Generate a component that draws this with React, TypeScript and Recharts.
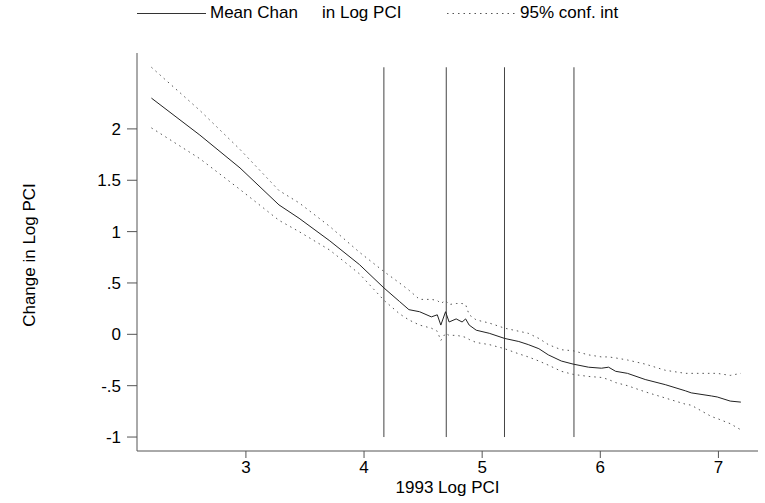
import React from "react";
import {
  LineChart,
  Line,
  XAxis,
  YAxis,
  ReferenceLine,
} from "recharts";

// 1993 log PCI (x) and the smoothed change with its 95% band
const logPci = [2.2, 2.61, 2.95, 3.28, 3.45, 3.71, 3.96, 4.17, 4.3, 4.38, 4.47, 4.57, 4.62, 4.65, 4.69, 4.72, 4.78, 4.83, 4.86, 4.89, 4.95, 5.06, 5.19, 5.31, 5.39, 5.48, 5.56, 5.67, 5.77, 5.9, 6.01, 6.07, 6.13, 6.23, 6.38, 6.55, 6.72, 6.77, 6.94, 6.99, 7.1, 7.19];
const meanChange = [2.3, 1.94, 1.62, 1.26, 1.13, 0.91, 0.68, 0.45, 0.32, 0.24, 0.22, 0.17, 0.19, 0.09, 0.22, 0.12, 0.15, 0.12, 0.15, 0.09, 0.04, 0.01, -0.04, -0.07, -0.1, -0.14, -0.2, -0.26, -0.29, -0.32, -0.33, -0.32, -0.36, -0.38, -0.44, -0.49, -0.55, -0.57, -0.6, -0.61, -0.65, -0.66];
const upperCi = [2.6, 2.18, 1.8, 1.4, 1.28, 1.05, 0.8, 0.61, 0.5, 0.43, 0.34, 0.34, 0.33, 0.3, 0.33, 0.29, 0.3, 0.3, 0.29, 0.19, 0.14, 0.11, 0.06, 0.03, 0.01, -0.04, -0.1, -0.15, -0.16, -0.2, -0.22, -0.22, -0.23, -0.25, -0.29, -0.35, -0.38, -0.38, -0.38, -0.38, -0.4, -0.38];
const lowerCi = [2.01, 1.71, 1.41, 1.11, 1.0, 0.82, 0.59, 0.33, 0.2, 0.14, 0.09, 0.06, 0.03, -0.06, 0.01, -0.01, -0.01, -0.02, -0.03, -0.05, -0.08, -0.1, -0.14, -0.19, -0.22, -0.26, -0.3, -0.36, -0.39, -0.41, -0.42, -0.44, -0.47, -0.5, -0.56, -0.62, -0.68, -0.69, -0.8, -0.82, -0.87, -0.93];

// vertical cut-off lines and the span they cover
const cutoffs = [4.168, 4.696, 5.189, 5.777];
const cutoffSpan = [-1, 2.6];

const xTicks = [3, 4, 5, 6, 7];
const yTicks = [-1, -0.5, 0, 0.5, 1, 1.5, 2];
const yTickLabels = ["-1", "-.5", "0", ".5", "1", "1.5", "2"];

const data = logPci.map((x, i) => ({
  x,
  mean: meanChange[i],
  upper: upperCi[i],
  lower: lowerCi[i],
}));

const FONT = "Arial, 'Liberation Sans', sans-serif";
const AXIS = "#555";

function YTitle({ viewBox }: any) {
  const cx = viewBox.x - 48;
  const cy = viewBox.y + viewBox.height / 2 + 3;
  return (
    <text
      x={cx}
      y={cy}
      transform={`rotate(-90 ${cx} ${cy})`}
      textAnchor="middle"
      dominantBaseline="central"
      fontSize={17}
      fontFamily={FONT}
      fill="#000"
    >
      Change in Log PCI
    </text>
  );
}

function ChartLegend() {
  const text = { position: "absolute" as const, top: 3, fontSize: 17, fontFamily: FONT, color: "#000", whiteSpace: "nowrap" as const };
  return (
    <>
      <svg style={{ position: "absolute", left: 0, top: 0 }} width={765} height={30}>
        <line x1={137} x2={206} y1={13.5} y2={13.5} stroke="#333" strokeWidth={1} />
        <line x1={447} x2={515} y1={13.5} y2={13.5} stroke="#555" strokeWidth={1} strokeDasharray="1.5 4" />
      </svg>
      <div style={{ ...text, left: 210 }}>Mean Chan</div>
      <div style={{ ...text, left: 322 }}>in Log PCI</div>
      <div style={{ ...text, left: 520 }}>95% conf. int</div>
    </>
  );
}

export default function App() {
  return (
    <div style={{ position: "absolute", left: 0, top: 0, width: 765, height: 503, background: "#fff" }}>
      <LineChart
        width={765}
        height={503}
        data={data}
        margin={{ top: 53, right: 7, left: 77, bottom: 0 }}
        style={{ fontFamily: FONT }}
      >
        <XAxis
          dataKey="x"
          type="number"
          domain={[2.078, 7.335]}
          ticks={xTicks}
          allowDataOverflow
          height={52}
          stroke={AXIS}
          tickSize={7}
          tickMargin={3}
          tick={{ fontSize: 17, fill: "#000" }}
          label={{ value: "1993 Log PCI", position: "insideBottom", offset: 10, fontSize: 17, fill: "#000" }}
        />
        <YAxis
          type="number"
          domain={[-1.136, 2.739]}
          ticks={yTicks}
          allowDataOverflow
          width={60}
          stroke={AXIS}
          tickSize={10}
          tickMargin={6}
          tick={{ fontSize: 17, fill: "#000" }}
          tickFormatter={(v: number) => yTickLabels[yTicks.indexOf(v)]}
          label={<YTitle />}
        />
        {cutoffs.map((c) => (
          <ReferenceLine
            key={c}
            segment={[
              { x: c, y: cutoffSpan[0] },
              { x: c, y: cutoffSpan[1] },
            ]}
            stroke="#444"
            strokeWidth={1}
          />
        ))}
        <Line
          type="linear"
          dataKey="upper"
          stroke="#555"
          strokeWidth={1}
          strokeDasharray="1.5 4"
          dot={false}
          isAnimationActive={false}
        />
        <Line
          type="linear"
          dataKey="lower"
          stroke="#555"
          strokeWidth={1}
          strokeDasharray="1.5 4"
          dot={false}
          isAnimationActive={false}
        />
        <Line
          type="linear"
          dataKey="mean"
          stroke="#222"
          strokeWidth={1}
          dot={false}
          isAnimationActive={false}
        />
      </LineChart>
      <ChartLegend />
    </div>
  );
}
